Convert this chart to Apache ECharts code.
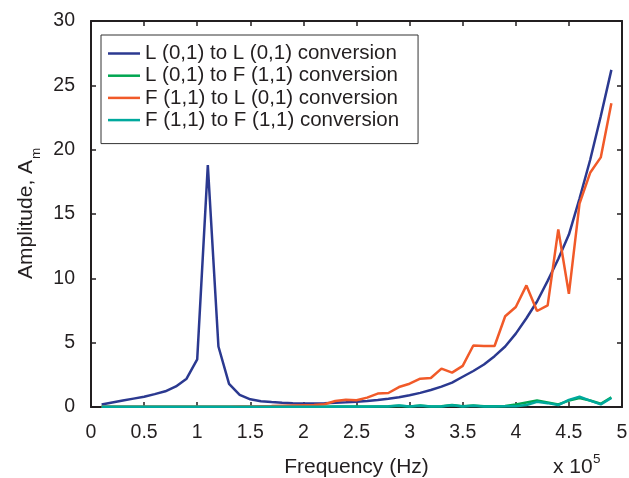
<!DOCTYPE html>
<html>
<head>
<meta charset="utf-8">
<script src="https://cdn.jsdelivr.net/npm/echarts@6/dist/echarts.min.js"></script>
<style>
html,body{margin:0;padding:0;background:#fff;}
#chart{width:629px;height:478px;}
</style>
</head>
<body>
<div id="chart"></div>
<script>
// Frequency in units of 1e5 Hz
var freq = [0.1,0.2,0.3,0.4,0.5,0.6,0.7,0.8,0.9,1.0,
            1.1,1.2,1.3,1.4,1.5,1.6,1.7,1.8,1.9,2.0,
            2.1,2.2,2.3,2.4,2.5,2.6,2.7,2.8,2.9,3.0,
            3.1,3.2,3.3,3.4,3.5,3.6,3.7,3.8,3.9,4.0,
            4.1,4.2,4.3,4.4,4.5,4.6,4.7,4.8,4.9];

var L01toL01 = [0.2,0.35,0.5,0.65,0.8,1.0,1.22,1.6,2.2,3.7,
                18.8,4.7,1.8,0.95,0.6,0.45,0.38,0.33,0.3,0.28,
                0.28,0.3,0.33,0.36,0.4,0.46,0.54,0.64,0.76,0.92,
                1.1,1.32,1.58,1.9,2.35,2.8,3.3,3.95,4.7,5.7,
                6.9,8.2,9.8,11.5,13.4,16.2,19.2,22.6,26.2];

var L01toF11 = [0.01,0.01,0.01,0.01,0.01,0.01,0.01,0.01,0.01,0.01,
                0.01,0.01,0.01,0.01,0.01,0.02,0.02,0.02,0.02,0.02,
                0.02,0.02,0.03,0.03,0.03,0.03,0.04,0.05,0.1,0.04,
                0.12,0.04,0.05,0.15,0.05,0.12,0.05,0.06,0.08,0.2,
                0.35,0.5,0.35,0.2,0.5,0.7,0.5,0.25,0.75];

var F11toL01 = [0.02,0.02,0.02,0.02,0.02,0.02,0.02,0.02,0.02,0.02,
                0.02,0.02,0.02,0.03,0.03,0.05,0.07,0.1,0.12,0.14,
                0.16,0.21,0.47,0.57,0.52,0.73,1.04,1.09,1.55,1.81,
                2.2,2.25,2.98,2.67,3.2,4.78,4.74,4.74,7.05,7.77,
                9.45,7.46,7.9,13.8,8.8,15.8,18.2,19.4,23.6];

var F11toF11 = [0.01,0.01,0.01,0.01,0.01,0.01,0.01,0.01,0.01,0.01,
                0.01,0.01,0.01,0.01,0.01,0.01,0.01,0.01,0.01,0.01,
                0.01,0.01,0.02,0.02,0.02,0.02,0.03,0.04,0.12,0.03,
                0.1,0.03,0.04,0.14,0.04,0.1,0.04,0.04,0.05,0.05,
                0.15,0.4,0.3,0.15,0.55,0.8,0.5,0.2,0.7];

var seriesNames = ['L (0,1) to L (0,1) conversion','L (0,1) to F (1,1) conversion',
                   'F (1,1) to L (0,1) conversion','F (1,1) to F (1,1) conversion'];
var seriesColors = ['#2b3990','#00a651','#f15a29','#00a99d'];
var seriesData = [L01toL01, L01toF11, F11toL01, F11toF11];

function pairs(ys){ return freq.map(function(x,i){ return [x, ys[i]]; }); }

var ink = '#231f20';
var font = 'Liberation Sans, Arial, Helvetica, sans-serif';

var chart = echarts.init(document.getElementById('chart'), null, {renderer:'canvas'});
var series = seriesData.map(function(d,i){
  return {
    name: seriesNames[i], type: 'line', data: pairs(d),
    showSymbol: false, symbol: 'none', animation: false,
    lineStyle: {color: seriesColors[i], width: 2.5},
    itemStyle: {color: seriesColors[i]},
    xAxisIndex: 0, yAxisIndex: 0
  };
});

function axisCommon(extra){
  var o = {
    type: 'value',
    axisLine: {onZero: false, lineStyle: {color: ink, width: 2}},
    axisTick: {inside: true, length: 5, lineStyle: {color: ink, width: 1.5}},
    splitLine: {show: false}
  };
  for (var k in extra) o[k] = extra[k];
  return o;
}

chart.setOption({
  backgroundColor: '#fff',
  animation: false,
  grid: {left: 91, right: 7, top: 21, bottom: 71, containLabel: false, outerBoundsMode: 'none'},
  legend: {
    left: 101, top: 35, orient: 'vertical',
    data: seriesNames,
    itemWidth: 32, itemHeight: 2.5, itemGap: 1.2,
    padding: [8, 19, 13, 7],
    backgroundColor: '#fff', borderColor: '#333', borderWidth: 1,
    icon: 'rect',
    textStyle: {fontSize: 20.5, color: ink, fontFamily: font}
  },
  xAxis: [
    axisCommon({min: 0, max: 5, interval: 0.5, position: 'bottom',
      name: 'Frequency (Hz)', nameLocation: 'middle', nameGap: 50,
      nameTextStyle: {fontSize: 21, color: ink, fontFamily: font},
      axisLabel: {fontSize: 19.5, color: ink, margin: 16, fontFamily: font}}),
    axisCommon({min: 0, max: 5, interval: 0.5, position: 'top', axisLabel: {show: false}})
  ],
  yAxis: [
    axisCommon({min: 0, max: 30, interval: 5, position: 'left',
      axisLabel: {fontSize: 19.5, color: ink, margin: 16, fontFamily: font}}),
    axisCommon({min: 0, max: 30, interval: 5, position: 'right', axisLabel: {show: false}})
  ],
  graphic: [
    {type: 'text', x: 26, y: 279, rotation: Math.PI/2,
     style: {text: 'Amplitude, A', fontSize: 21, fill: ink, fontFamily: font, align: 'left', verticalAlign: 'middle'}},
    {type: 'text', x: 36, y: 159, rotation: Math.PI/2,
     style: {text: 'm', fontSize: 13.5, fill: ink, fontFamily: font, align: 'left', verticalAlign: 'middle'}},
    {type: 'text', left: 553, top: 457, style: {text: 'x 10', fontSize: 21, fill: ink, fontFamily: font}},
    {type: 'text', left: 593, top: 452, style: {text: '5', fontSize: 13.5, fill: ink, fontFamily: font}}
  ],
  series: series
});
</script>
</body>
</html>
